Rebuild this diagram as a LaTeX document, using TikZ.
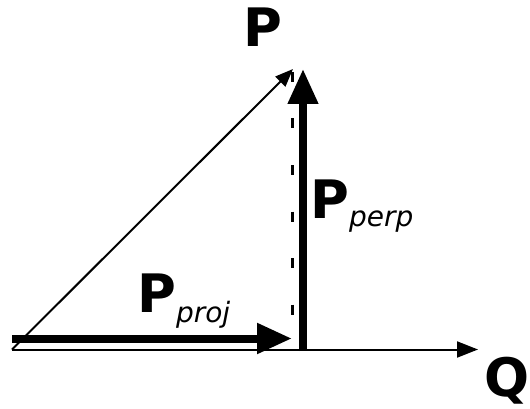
\documentclass[tikz,border=0pt]{standalone}
\usepackage{fontspec}
\setmainfont{DejaVu Sans}
\usetikzlibrary{arrows.meta}

\newcommand{\vsub}[2][8pt]{\raisebox{-#1}{\fontsize{28}{30}\selectfont\mdseries\itshape #2}}

\begin{document}
\begin{tikzpicture}[x=1pt,y=-1pt,
        thinvec/.style={line width=2pt,-{Triangle[length=18pt,width=14pt]}},
        thickvec/.style={line width=8pt,-{Triangle[length=35pt,width=29pt]}},
        axisvec/.style={line width=2pt,-{Triangle[length=21pt,width=16pt]}},
        guide/.style={line width=3pt,dash pattern=on 10pt off 36.5pt},
        lbl/.style={anchor=base west,inner sep=0pt,font=\fontsize{53}{60}\selectfont\bfseries}]
    \useasboundingbox (0,0) rectangle (530,409);

    % base point and vector ends
    \coordinate (o) at (12,349.5);
    \coordinate (q) at (478,349.5);
    \coordinate (p) at (293,69);
    \coordinate (foot) at (292,72);
    \coordinate (axis) at (292,345);
    \coordinate (projstart) at (12,338.5);
    \coordinate (projend) at (292,338.5);
    \coordinate (perpstart) at (303,351);
    \coordinate (perpend) at (303,69);

    \draw[axisvec] (o)--(q);
    \draw[guide] (foot)--(axis);
    \draw[thinvec] (o)--(p);
    \draw[thickvec] (projstart)--(projend);
    \draw[thickvec,line width=7.5pt] (perpstart)--(perpend);

    % labels
    \node[lbl] (plbl) at (243,47) {P};
    \node[lbl] (qlbl) at (484,396) {Q};
    \node[lbl] (perplbl) at (310,218) {P\vsub[8pt]{perp}};
    \node[lbl] (projlbl) at (137,312) {P\vsub[10pt]{proj}};
\end{tikzpicture}
\end{document}
